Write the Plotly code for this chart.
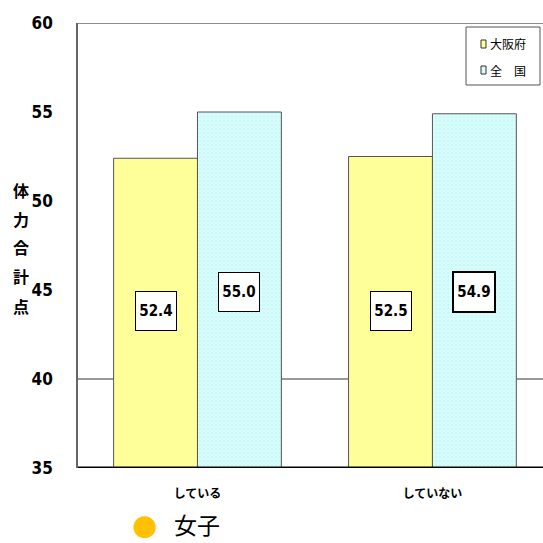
import plotly.graph_objects as go

categories = ["している", "していない"]
series_names = ["大阪府", "全　国"]
osaka = [52.4, 52.5]
zenkoku = [55.0, 54.9]
label_y_osaka = [43.8, 43.8]
label_y_zenkoku = [44.9, 44.9]
y_ticks = [35, 40, 45, 50, 55, 60]
y_title_chars = ["体", "力", "合", "計", "点"]
colors = ["#FFFF99", "#D8FCFC"]

fig = go.Figure()
fig.add_trace(go.Bar(
    x=[0, 1], y=osaka, name=series_names[0],
    marker=dict(color=colors[0], line=dict(color="#555555", width=1)),
    width=0.357, offset=-0.357,
))
fig.add_trace(go.Bar(
    x=[0, 1], y=zenkoku, name=series_names[1],
    marker=dict(color=colors[1], line=dict(color="#555555", width=1),
                pattern=dict(shape=".", fgcolor="#B8F4F4", size=4, solidity=0.3)),
    width=0.357, offset=0,
))

narrow = "DejaVu Sans Condensed, Liberation Sans"
lab_font = dict(family=narrow, size=15, color="black")
for i in range(2):
    fig.add_annotation(x=i - 0.1785, y=label_y_osaka[i], text=f"<b>{osaka[i]:.1f}</b>",
                       showarrow=False, bgcolor="white", bordercolor="black", borderwidth=1,
                       borderpad=2, width=36, height=34, font=lab_font)
    fig.add_annotation(x=i + 0.1785, y=label_y_zenkoku[i], text=f"<b>{zenkoku[i]:.1f}</b>",
                       showarrow=False, bgcolor="white", bordercolor="black", borderwidth=1 if i == 0 else 2,
                       borderpad=2, width=36, height=34, font=lab_font)

# gridline at 40
fig.add_shape(type="line", xref="paper", x0=0, x1=1, y0=40, y1=40,
              line=dict(color="#333333", width=1), layer="below")
# top border
fig.add_shape(type="line", xref="paper", x0=0, x1=1, y0=60, y1=60,
              line=dict(color="#666666", width=1.5))
# bottom axis line
fig.add_shape(type="line", xref="paper", x0=0, x1=1, y0=35, y1=35,
              line=dict(color="black", width=3))

# pixel -> paper helpers (plot area x 78..543, y 23..468)
def px_x(p):
    return (p - 78) / 465.0
def px_y(p):
    return (468 - p) / 445.0

fig.add_shape(type="rect", xref="paper", yref="paper",
              x0=px_x(466), x1=px_x(540), y0=px_y(85), y1=px_y(27),
              line=dict(color="#555555", width=1), fillcolor="white")
for k, (name, yy) in enumerate(zip(series_names, [44, 70])):
    fig.add_shape(type="rect", xref="paper", yref="paper",
                  x0=px_x(481), x1=px_x(486), y0=px_y(yy + 4), y1=px_y(yy - 4),
                  line=dict(color="#333333", width=1), fillcolor=colors[k])
    fig.add_annotation(xref="paper", yref="paper", x=px_x(488), y=px_y(yy),
                       text=name, showarrow=False, xanchor="left", yanchor="middle",
                       font=dict(family="Noto Sans CJK JP", size=12, color="black"))

for ch, yy in zip(y_title_chars, [190, 219, 247, 276, 306]):
    fig.add_annotation(xref="paper", yref="paper", x=px_x(21), y=px_y(yy), text=f"<b>{ch}</b>",
                       showarrow=False, font=dict(family="Noto Sans CJK JP", size=16, color="black"),
                       xanchor="center", yanchor="middle")
fig.add_annotation(xref="paper", yref="paper", x=px_x(144), y=px_y(525),
                   text="●", showarrow=False, xanchor="center", yanchor="middle",
                   font=dict(family="DejaVu Sans", size=29, color="#FFC000"))
fig.add_annotation(xref="paper", yref="paper", x=px_x(172), y=px_y(524),
                   text="女子", showarrow=False, xanchor="left", yanchor="middle",
                   font=dict(family="Noto Sans CJK JP", size=23, color="black"))

fig.update_layout(
    width=543, height=543,
    margin=dict(l=78, r=0, t=23, b=75, autoexpand=False),
    plot_bgcolor="white", paper_bgcolor="white",
    barmode="overlay",
    showlegend=False,
    xaxis=dict(range=[-0.5085, 1.4705], tickvals=[0, 1], ticktext=[f"<b>{c}</b>" for c in categories],
               tickfont=dict(family="Noto Sans CJK JP", size=12, color="black"),
               showline=False, ticks="", showgrid=False, zeroline=False,
               automargin=False, ticklabelstandoff=17),
    yaxis=dict(range=[35, 60], tickvals=y_ticks, ticktext=[f"<b>{t}</b>" for t in y_ticks],
               showgrid=False, zeroline=False,
               showline=True, linecolor="#666666", linewidth=1.5, ticks="",
               tickfont=dict(family=narrow, size=17, color="black"),
               ticklabelstandoff=20, automargin=False),
)

fig.write_html("out.html", config={"displayModeBar": False},
               post_script="document.body.style.margin='0';")
